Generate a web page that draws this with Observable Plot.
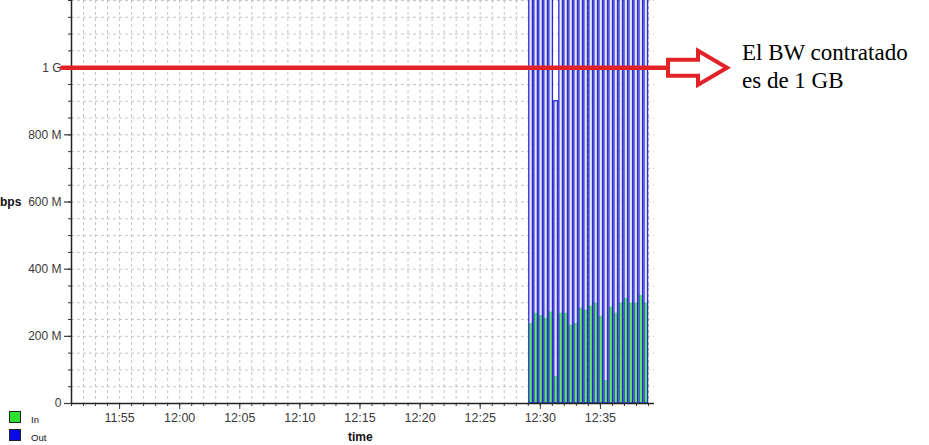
<!DOCTYPE html>
<html><head><meta charset="utf-8">
<script src="https://cdn.jsdelivr.net/npm/d3@7"></script>
<script src="https://cdn.jsdelivr.net/npm/@observablehq/plot@0.6"></script>
<style>
html,body{margin:0;padding:0;background:#fff;}
#wrap{position:relative;width:929px;height:445px;overflow:hidden;}
#wrap svg{display:block;background:linear-gradient(to right,#efefef 0,#efefef 654px,#fff 654px);}
.ov{position:absolute;font-family:Arial,"Liberation Sans",sans-serif;color:#111;white-space:nowrap;}
.sw{position:absolute;width:10px;height:10px;border:1px solid #222;}
</style></head><body><div id="wrap"></div>
<script>
// ---- data (Mbps) ----
const sampleTimes = ["12:29:05","12:29:30","12:29:55","12:30:20","12:30:45","12:31:10","12:31:35","12:32:00",
  "12:32:25","12:32:50","12:33:15","12:33:40","12:34:05","12:34:30","12:34:55","12:35:20",
  "12:35:45","12:36:10","12:36:35","12:37:00","12:37:25","12:37:50","12:38:15","12:38:40"];
const inMbps  = [238,269,262,254,272,80,269,269,233,238,284,278,290,299,260,69,287,269,299,313,299,299,322,299];
const outMbps = [1400,1400,1400,1400,1400,900,1400,1400,1400,1400,1400,1400,1400,1400,1400,1400,1400,1400,1400,1400,1400,1400,1400,1400];
const yTickValues = [0,200,400,600,800,1000];
const yTickLabels = ["0","200 M","400 M","600 M","800 M","1 G"];
const xTickLabels = ["11:55","12:00","12:05","12:10","12:15","12:20","12:25","12:30","12:35"];
const xStart = "11:51:00", xEnd = "12:39:30";
const contractedBW = 1000;               // 1 G
const redLineFrom = "11:50:15", redLineTo = "12:40:40";
const barSeconds = 18;

const parse = d3.timeParse("%H:%M:%S");
const rows = sampleTimes.map((s, i) => {
  const t = parse(s);
  return {t1: t, t2: new Date(+t + barSeconds * 1000), inV: inMbps[i], outV: outMbps[i]};
});
const x0 = parse(xStart), x1 = parse(xEnd);
const minuteTicks = d3.timeMinute.range(x0, new Date(+x1 + 1));
const majorTicks = xTickLabels.map(s => parse(s + ":00"));
const minorY = d3.range(50, 1201, 50);
const grid = {stroke: "#c4c4c4", strokeOpacity: 1, strokeDasharray: "3,3"};

const chart = Plot.plot({
  width: 929, height: 445,
  marginLeft: 71, marginRight: 275, marginTop: 0, marginBottom: 42,
  style: {background: "transparent", fontFamily: "Arial, 'Liberation Sans', sans-serif", fontSize: "12px", overflow: "visible"},
  x: {type: "time", domain: [x0, x1]},
  y: {domain: [0, 1200]},
  marks: [
    Plot.gridX(minuteTicks, grid),
    Plot.gridY(minorY, grid),
    Plot.rect(rows, {x1: "t1", x2: "t2", y1: 0, y2: "outV", fill: "#e6e6f8", clip: true}),
    Plot.rect(rows, {x1: "t1", x2: "t2", y1: 0, y2: "inV", fill: "#62e862"}),
    Plot.rect(rows, {x1: "t1", x2: "t2", y1: 0, y2: "outV", fill: "none", stroke: "#0808cc", strokeWidth: 1.3, strokeOpacity: 0.85, clip: true}),
    Plot.ruleX([x0], {stroke: "#222", strokeWidth: 1.5}),
    Plot.ruleY([0], {stroke: "#222", strokeWidth: 1.5}),
    Plot.axisY(yTickValues, {tickSize: 7, tickPadding: 3, tickFormat: (d, i) => yTickLabels[i], color: "#3a3a3a", label: null, strokeWidth: 1.2}),
    Plot.axisY(minorY, {tickSize: 3, tickFormat: () => "", label: null, color: "#333"}),
    Plot.axisX(majorTicks, {tickSize: 6, tickPadding: 4, tickFormat: d3.timeFormat("%H:%M"), color: "#3a3a3a", label: null, fontSize: 12.5}),
    Plot.axisX(minuteTicks, {tickSize: 3, tickFormat: () => "", label: null, color: "#333"}),
    Plot.ruleY([{v: contractedBW, a: parse(redLineFrom), b: parse(redLineTo)}],
      {y: "v", x1: "a", x2: "b", stroke: "#e32228", strokeWidth: 4.5, strokeLinecap: "round"})
  ]
});
document.getElementById("wrap").appendChild(chart);

// arrow continuing the red line
const xs = chart.scale("x"), ys = chart.scale("y");
const xe = xs.apply(parse(redLineTo)), yc = ys.apply(contractedBW) + 0.5;
const arrow = [[xe, yc - 8], [xe + 30, yc - 8], [xe + 30, yc - 17], [xe + 59, yc], [xe + 30, yc + 17], [xe + 30, yc + 8], [xe, yc + 8]];
d3.select(chart).append("path")
  .attr("d", "M" + arrow.map(p => p.join(",")).join("L") + "Z")
  .attr("fill", "#fff").attr("stroke", "#e32228").attr("stroke-width", 4).attr("stroke-linejoin", "miter");

// overlays
const wrap = document.getElementById("wrap");
function ov(html, css, cls = "ov") { const d = document.createElement("div"); d.className = cls; d.innerHTML = html; d.style.cssText = css; wrap.appendChild(d); return d; }
ov("bps", "left:0px;top:195px;font-weight:bold;font-size:12px;");
ov("time", "left:348px;top:430px;font-weight:bold;font-size:12px;line-height:14px;");
ov("", "left:9px;top:411px;background:#2ee02e;", "sw");
ov("", "left:9px;top:429px;background:#0a0ae6;", "sw");
ov("In", "left:31px;top:414px;font-size:9.5px;");
ov("Out", "left:31px;top:432px;font-size:9.5px;");
ov("El BW contratado<br>es de 1 GB", "left:742px;top:39px;font-family:'Liberation Serif','Times New Roman',serif;font-size:23px;line-height:28px;color:#000;");
</script></body></html>
